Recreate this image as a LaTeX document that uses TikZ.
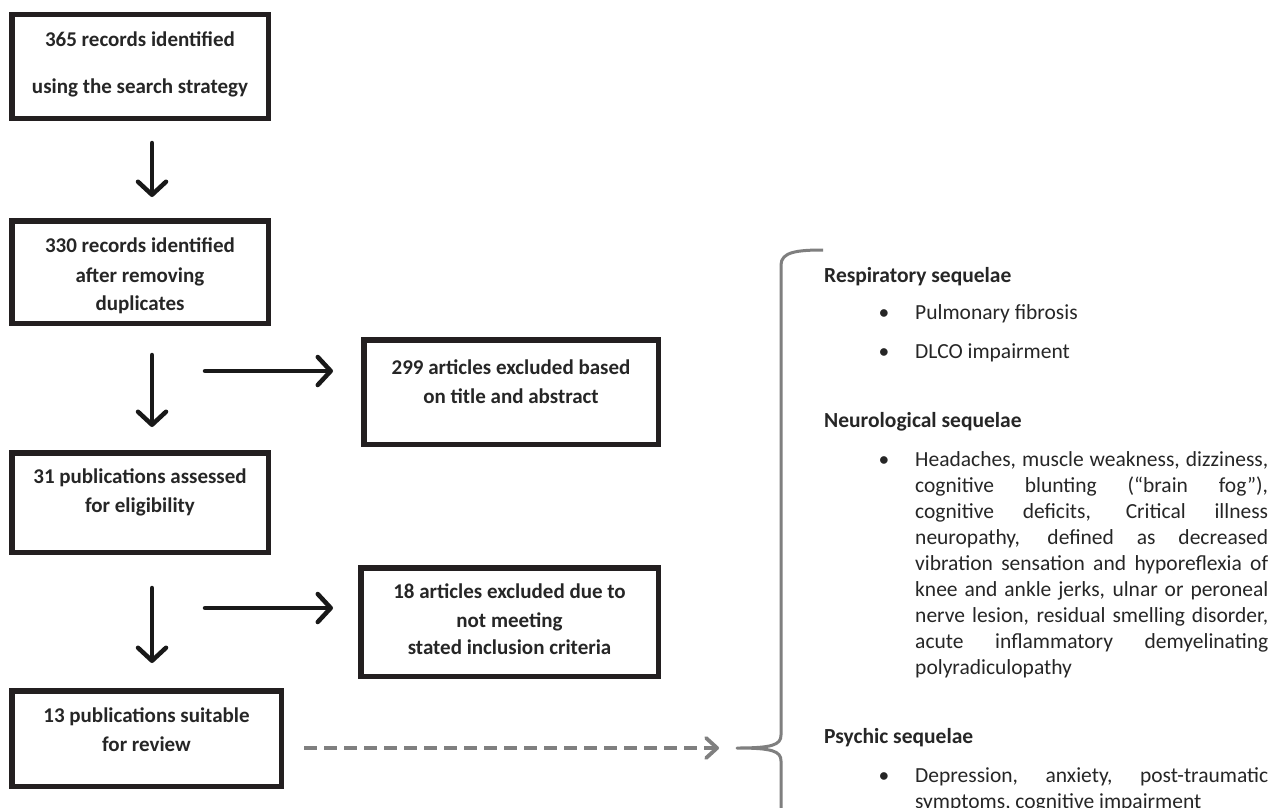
\documentclass[tikz,border=0pt]{standalone}
\usepackage{fontspec}
\setmainfont{Carlito}
\usetikzlibrary{arrows.meta}
\definecolor{boxline}{HTML}{231F20}
\definecolor{txt}{HTML}{262626}
\definecolor{gry}{HTML}{7F7F7F}
\newcommand\parsetup{\tolerance=10000\relax\hyphenpenalty=10000\relax}
\begin{document}
\begin{tikzpicture}[x=1pt,y=-1pt,
  flowbox/.style={draw=boxline, line width=5.5pt, inner sep=0pt},
  boxtxt/.style={anchor=base, inner sep=0pt, text=txt, font=\fontsize{21}{25}\selectfont\bfseries},
  hdr/.style={anchor=base west, inner sep=0pt, text=txt, font=\fontsize{21.5}{26}\selectfont\bfseries},
  itemtxt/.style={anchor=base west, inner sep=0pt, text=txt, font=\fontsize{21.5}{26}\selectfont},
  bul/.style={anchor=base, inner sep=0pt, text=txt, font=\fontsize{21.5}{26}\selectfont},
  para/.style={anchor=base west, inner sep=0pt, text=txt, text width=353pt, align=justify,
    font=\fontsize{21.5}{26}\selectfont},
  arr/.style={draw=black!90, line width=4.5pt, line cap=round,
    -{Straight Barb[length=13pt, width=28pt, line cap=round, line join=round]}},
  dasharr/.style={draw=gry, line width=3.8pt, dash pattern=on 13pt off 7pt,
    -{Straight Barb[length=11pt, width=20pt, line cap=round, line join=round]}},
  bracestyle/.style={draw=gry, line width=3pt, line join=round}
]
\clip (0,0) rectangle (1279,808);
\fill[white] (0,0) rectangle (1279,808);

% boxes
\node[flowbox, minimum width=256.5pt, minimum height=103.5pt] (b1) at (140,66.5) {};
\node[flowbox, minimum width=256.5pt, minimum height=102.5pt] (b2) at (140,272) {};
\node[flowbox, minimum width=294.5pt, minimum height=104.5pt] (b3) at (511,392) {};
\node[flowbox, minimum width=256.5pt, minimum height=99.5pt] (b4) at (140,502.5) {};
\node[flowbox, minimum width=297.5pt, minimum height=108.5pt] (b5) at (509.5,622) {};
\node[flowbox, minimum width=269.5pt, minimum height=95.5pt] (b6) at (146.5,738.5) {};

% box texts
\node[boxtxt] (t1a) at (140,47) {365 records identified};
\node[boxtxt] (t1b) at (140,93) {using the search strategy};
\node[boxtxt] (t2a) at (140,252) {330 records identified};
\node[boxtxt] (t2b) at (140,282) {after removing};
\node[boxtxt] (t2c) at (140,310) {duplicates};
\node[boxtxt] (t3a) at (511,374) {299 articles excluded based};
\node[boxtxt] (t3b) at (511,403) {on title and abstract};
\node[boxtxt] (t4a) at (140,483) {31 publications assessed};
\node[boxtxt] (t4b) at (140,512) {for eligibility};
\node[boxtxt] (t5a) at (509.5,598) {18 articles excluded due to};
\node[boxtxt] (t5b) at (509.5,627) {not meeting};
\node[boxtxt] (t5c) at (509.5,654) {stated inclusion criteria};
\node[boxtxt] (t6a) at (146.5,722) {13 publications suitable};
\node[boxtxt] (t6b) at (146.5,751) {for review};

% vertical arrows
\draw[arr] ([xshift=12pt,yshift=-22pt]b1.south) -- ([xshift=12pt,yshift=21pt]b2.north);
\draw[arr] ([xshift=12pt,yshift=-29pt]b2.south) -- ([xshift=12pt,yshift=23pt]b4.north);
\draw[arr] ([xshift=12pt,yshift=-33pt]b4.south) -- ([xshift=5.5pt,yshift=25pt]b6.north);

% horizontal arrows
\draw[arr] ([xshift=-156pt,yshift=21pt]b3.west) -- ([xshift=-28pt,yshift=21pt]b3.west);
\draw[arr] ([xshift=-153pt,yshift=14pt]b5.west) -- ([xshift=-25pt,yshift=14pt]b5.west);

% brace
\coordinate (tip) at (737,748);
\draw[bracestyle] (823,250) .. controls (797,250) and (781,252) .. (781,265)
  -- (781,735) .. controls (781,745) and (772,748) .. (tip)
  .. controls (772,748) and (781,751) .. (781,761) -- (781,840);

% dashed arrow
\draw[dasharr] ([xshift=20pt,yshift=-9.5pt]b6.east) -- ([xshift=-18pt]tip);

% right text
\node[hdr] (h1) at (824,282) {Respiratory sequelae};
\node[bul] (u1) at (884,319) {\textbullet};
\node[itemtxt] (i1) at (915,319) {Pulmonary fibrosis};
\node[bul] (u2) at (884,358) {\textbullet};
\node[itemtxt] (i2) at (915,358) {DLCO impairment};

\node[hdr] (h2) at (824,427) {Neurological sequelae};
\node[bul] (u3) at (884,466) {\textbullet};
\node[para] (i3) at (915,466) {\parsetup Headaches, muscle weakness, dizziness,\linebreak
cognitive blunting (“brain fog”),\linebreak
cognitive deficits, Critical illness\linebreak
neuropathy, defined as decreased\linebreak
vibration sensation and hyporeflexia of\linebreak
knee and ankle jerks, ulnar or peroneal\linebreak
nerve lesion, residual smelling disorder,\linebreak
acute inflammatory demyelinating\linebreak
polyradiculopathy};

\node[hdr] (h3) at (824,743) {Psychic sequelae};
\node[bul] (u4) at (884,782) {\textbullet};
\node[para] (i4) at (915,782) {\parsetup Depression, anxiety, post-traumatic\linebreak
symptoms, cognitive impairment};
\end{tikzpicture}
\end{document}
